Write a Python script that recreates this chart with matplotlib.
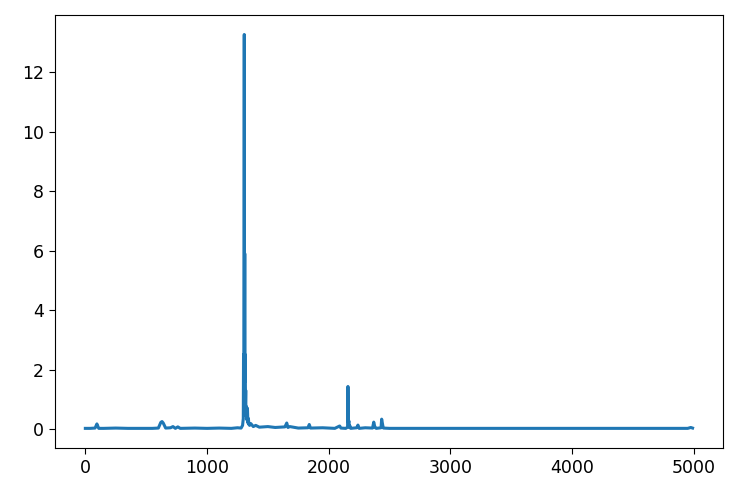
import matplotlib.pyplot as plt

# vertices of the series (index, value)
idx = [0, 40, 80, 95, 100, 110, 150, 250, 350, 450, 550, 600, 620, 630, 640, 660,
       700, 720, 740, 760, 780, 900, 1000, 1100, 1200, 1250, 1280, 1292,
       1298, 1300, 1302, 1304, 1306, 1308, 1310, 1312, 1314, 1316, 1318, 1320,
       1324, 1328, 1332, 1336, 1340, 1344, 1350, 1360, 1380, 1400, 1430, 1500,
       1560, 1640, 1655, 1665, 1680, 1750, 1830, 1840, 1850, 1950, 2050, 2090,
       2100, 2140, 2155, 2158, 2162, 2166, 2170, 2175, 2180, 2230, 2240, 2250,
       2300, 2360, 2370, 2380, 2390, 2430, 2435, 2445, 2450, 2500, 2600, 2700,
       2800, 2900, 3000, 3200, 3400, 3600, 3800, 4000, 4200, 4400, 4600, 4800,
       4950, 4975, 4990]
val = [0.02, 0.02, 0.03, 0.17, 0.12, 0.02, 0.02, 0.03, 0.02, 0.02, 0.02, 0.03, 0.22,
       0.25, 0.2, 0.03, 0.04, 0.08, 0.02, 0.07, 0.02, 0.03, 0.02, 0.03, 0.02,
       0.04, 0.03, 0.12, 0.35, 2.5, 1.2, 6.0, 13.27, 2.4, 5.9, 1.6, 2.5, 0.9,
       1.3, 0.45, 0.75, 0.3, 0.7, 0.2, 0.35, 0.15, 0.12, 0.18, 0.08, 0.12, 0.06,
       0.08, 0.05, 0.07, 0.2, 0.05, 0.08, 0.03, 0.04, 0.15, 0.03, 0.04, 0.02,
       0.1, 0.03, 0.02, 0.06, 1.43, 0.2, 0.27, 0.05, 0.1, 0.02, 0.04, 0.13, 0.02,
       0.04, 0.03, 0.23, 0.05, 0.02, 0.04, 0.33, 0.1, 0.03, 0.02, 0.02, 0.02,
       0.02, 0.02, 0.02, 0.02, 0.02, 0.02, 0.02, 0.02, 0.02, 0.02, 0.02, 0.02,
       0.02, 0.05, 0.03]

fig = plt.figure(figsize=(7.48, 4.94), dpi=100)
ax = fig.add_axes([0.0735, 0.093, 0.893, 0.877])
ax.plot(idx, val, color="#1f77b4", linewidth=2.2)
ax.tick_params(labelsize=12.5, length=4.5)
ax.set_yticks([0, 2, 4, 6, 8, 10, 12])
fig.savefig("out.png")
